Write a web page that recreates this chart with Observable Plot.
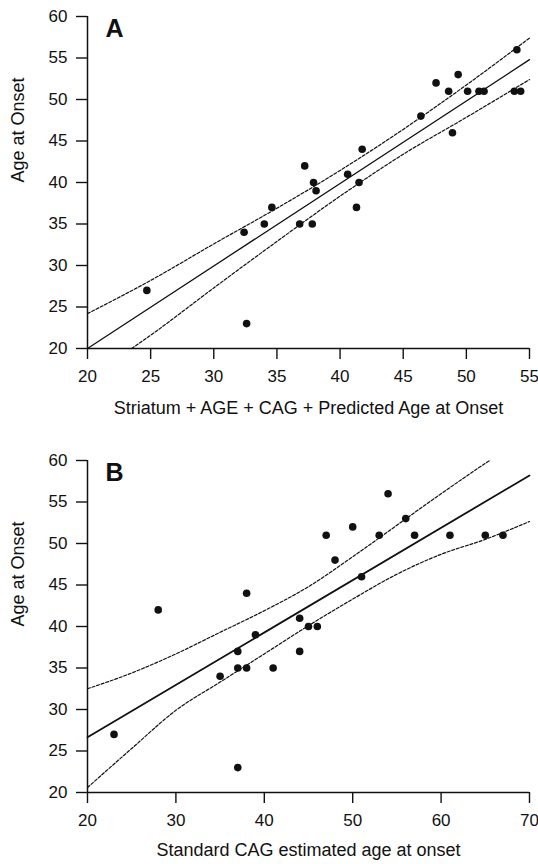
<!DOCTYPE html>
<html><head><meta charset="utf-8">
<script src="https://cdn.jsdelivr.net/npm/d3@7"></script>
<script src="https://cdn.jsdelivr.net/npm/@observablehq/plot@0.6"></script>
<style>body{margin:0;background:#fff}#c svg{display:block}</style>
</head><body><div id="c"></div>
<script>
// Panel A data
const aX = [24.7,32.4,32.6,34.0,34.6,36.8,37.8,37.2,37.9,38.1,40.6,41.5,41.75,41.3,46.4,47.6,48.6,49.35,48.9,50.1,51.0,51.4,54.0,53.8,54.3];
const aY = [27,34,23,35,37,35,35,42,40,39,41,40,44,37,48,52,51,53,46,51,51,51,56,51,51];
const aFitX = [20,55];
const aFitY = [20,54.8];
const aUpX = [20,25,30,35,40,45,50,55];
const aUpY = [24.2,28.2,32.6,36.9,41.45,46.4,51.75,57.4];
const aLoX = [23.5,25,30,35,40,45,50,55];
const aLoY = [20,21.6,27.3,32.9,38.35,43.4,47.85,52.4];
// Panel B data
const bX = [28,38,39,44,45,46,54,47,50,53,56,48,57,61,65,67,51,23,35,37,37,38,41,44,37];
const bY = [42,44,39,41,40,40,56,51,52,51,53,48,51,51,51,51,46,27,34,37,35,35,35,37,23];
const bFitX = [20,70];
const bFitY = [26.66,58.2];
const bUpX = [20,25,30,35,40,45,50,55,60,65,65.5];
const bUpY = [32.5,34.4,36.7,39.3,41.9,44.8,48.4,52.2,56.0,59.65,60];
const bLoX = [20,25,30,35,40,45,50,55,60,65,70];
const bLoY = [20.6,25.3,29.9,33.3,36.7,40.1,43.3,46.3,48.7,50.5,52.65];
const yTicks = [20,25,30,35,40,45,50,55,60];
const aTicks = [20,25,30,35,40,45,50,55];
const bTicks = [20,30,40,50,60,70];

const zip = (xs, ys) => xs.map((x,i)=>({x, y: ys[i]}));
const ink = "#111";

function panel({letter, xs, ys, fitX, fitY, upX, upY, loX, loY, xDomain, xTicks, xLabel, marginTop, marginBottom, fitWidth, titleDy}) {
  return Plot.plot({
    width: 538, height: 432,
    marginLeft: 87, marginRight: 9, marginTop, marginBottom,
    style: {fontFamily: "'Liberation Sans', Arial, sans-serif", fontSize: "17px", background: "#fff", color: ink},
    x: {domain: xDomain},
    y: {domain: [20, 60]},
    marks: [
      Plot.axisX({ticks: xTicks, tickSize: 11, tickPadding: 10, fontSize: 17, strokeWidth: 1.4, label: null}),
      Plot.axisY({ticks: yTicks, tickSize: 11, tickPadding: 9, fontSize: 17, strokeWidth: 1.4, label: null}),
      Plot.ruleX([xDomain[0]], {stroke: ink, strokeWidth: 1.5}),
      Plot.ruleY([20], {stroke: ink, strokeWidth: 1.5}),
      Plot.text([xLabel], {frameAnchor: "bottom", dy: titleDy, fontSize: 18, fill: ink, lineAnchor: "middle"}),
      Plot.text(["Age at Onset"], {frameAnchor: "left", dx: -69, rotate: -90, fontSize: 18, fill: ink, lineAnchor: "middle"}),
      Plot.line(zip(upX, upY), {x: "x", y: "y", stroke: ink, strokeWidth: 1.2, strokeDasharray: "3,1.8", curve: "monotone-x"}),
      Plot.line(zip(loX, loY), {x: "x", y: "y", stroke: ink, strokeWidth: 1.2, strokeDasharray: "3,1.8", curve: "monotone-x"}),
      Plot.line(zip(fitX, fitY), {x: "x", y: "y", stroke: ink, strokeWidth: fitWidth}),
      Plot.dot(zip(xs, ys), {x: "x", y: "y", r: 3.8, fill: ink, stroke: "none"}),
      Plot.text([letter], {frameAnchor: "top-left", dx: 18, dy: 3, fontSize: 25, fontWeight: "bold", fill: ink, lineAnchor: "top"})
    ]
  });
}

const c = document.getElementById("c");
c.append(panel({letter: "A", xs: aX, ys: aY, fitX: aFitX, fitY: aFitY, upX: aUpX, upY: aUpY, loX: aLoX, loY: aLoY,
  xDomain: [20, 55], xTicks: aTicks, xLabel: "Striatum + AGE + CAG + Predicted Age at Onset", marginTop: 16, marginBottom: 84, fitWidth: 1.3, titleDy: 60}));
c.append(panel({letter: "B", xs: bX, ys: bY, fitX: bFitX, fitY: bFitY, upX: bUpX, upY: bUpY, loX: bLoX, loY: bLoY,
  xDomain: [20, 70], xTicks: bTicks, xLabel: "Standard CAG estimated age at onset", marginTop: 28, marginBottom: 72, fitWidth: 1.8, titleDy: 58}));
</script></body></html>
